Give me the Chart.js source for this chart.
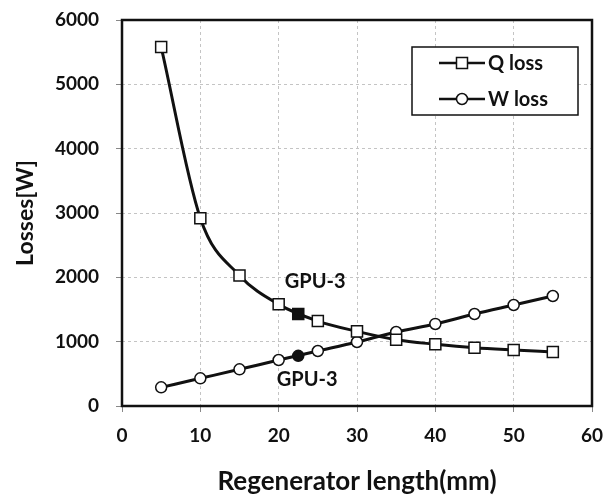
<!DOCTYPE html>
<html lang="en">
  <head>
    <meta charset="UTF-8" />
    <script src="https://cdn.jsdelivr.net/npm/chart.js@4.4.0/dist/chart.umd.min.js"></script>
    <title>Regenerator losses</title>
    <style>
      body { margin: 0; background: #fff; }
      #wrap { width: 605px; height: 501px; }
    </style>
  </head>
  <body>
    <div id="wrap"><canvas id="chart"></canvas></div>
    <script>
      // regenerator length (mm) and losses (W)
      const lengths = [5, 10, 15, 20, 25, 30, 35, 40, 45, 50, 55];
      const qLoss = [5580, 2920, 2030, 1580, 1320, 1160, 1030, 960, 905, 870, 840];
      const wLoss = [290, 430, 570, 715, 855, 995, 1150, 1275, 1430, 1570, 1710];
      // GPU-3 engine design point
      const gpuLength = 22.5;
      const gpuQ = 1430;
      const gpuW = 780;
      const seriesNames = ["Q loss", "W loss"];

      const FONT = "Lato";
      const INK = "#111";

      const toPoints = (xs, ys) => xs.map((x, i) => ({ x: x, y: ys[i] }));

      // keep the plot box fixed: no extra room for overhanging tick labels
      const noOverhang = (s) => {
        s.paddingTop = 0;
        s.paddingBottom = 0;
        s.paddingLeft = 0;
        s.paddingRight = 0;
      };

      // frame, GPU-3 labels and the boxed legend inside the plot
      const extras = {
        id: "extras",
        afterDraw(chart) {
          const { ctx, chartArea: a, scales } = chart;
          const x = scales.x, y = scales.y;
          ctx.save();
          ctx.strokeStyle = INK;
          ctx.lineWidth = 2.5;
          ctx.strokeRect(a.left, a.top, a.right - a.left, a.bottom - a.top);

          ctx.fillStyle = INK;
          ctx.font = "bold 20px " + FONT;
          ctx.textAlign = "center";
          ctx.textBaseline = "middle";
          ctx.fillText("GPU-3", x.getPixelForValue(gpuLength) + 17, y.getPixelForValue(gpuQ) - 32);
          ctx.fillText("GPU-3", x.getPixelForValue(gpuLength) + 9, y.getPixelForValue(gpuW) + 24);

          // legend
          const bx = a.right - 180, by = a.top + 27, bw = 166, bh = 68;
          ctx.fillStyle = "#fff";
          ctx.fillRect(bx, by, bw, bh);
          ctx.strokeStyle = INK;
          ctx.lineWidth = 1.5;
          ctx.strokeRect(bx, by, bw, bh);
          const rows = [by + 16, by + 52];
          rows.forEach((ry, i) => {
            ctx.strokeStyle = INK;
            ctx.lineWidth = 2.5;
            ctx.beginPath();
            ctx.moveTo(bx + 27, ry);
            ctx.lineTo(bx + 73, ry);
            ctx.stroke();
            ctx.fillStyle = "#fff";
            ctx.lineWidth = 1.5;
            ctx.beginPath();
            if (i === 0) ctx.rect(bx + 44.5, ry - 5.5, 11, 11);
            else ctx.arc(bx + 50, ry, 5.5, 0, Math.PI * 2);
            ctx.fill();
            ctx.stroke();
            ctx.fillStyle = INK;
            ctx.font = "bold 20px " + FONT;
            ctx.textAlign = "left";
            ctx.fillText(seriesNames[i], bx + 76, ry + 1);
          });
          ctx.restore();
        },
      };

      new Chart(document.getElementById("chart"), {
        type: "scatter",
        data: {
          datasets: [
            {
              label: seriesNames[0],
              data: toPoints(lengths, qLoss),
              showLine: true,
              cubicInterpolationMode: "monotone",
              borderColor: INK,
              borderWidth: 3,
              pointStyle: "rect",
              pointRadius: 7.8,
              pointBorderWidth: 1.5,
              pointBackgroundColor: "#fff",
              pointBorderColor: INK,
            },
            {
              label: seriesNames[1],
              data: toPoints(lengths, wLoss),
              showLine: true,
              cubicInterpolationMode: "monotone",
              borderColor: INK,
              borderWidth: 3,
              pointStyle: "circle",
              pointRadius: 5.5,
              pointBorderWidth: 1.5,
              pointBackgroundColor: "#fff",
              pointBorderColor: INK,
            },
            {
              label: "GPU-3 Q",
              data: [{ x: gpuLength, y: gpuQ }],
              pointStyle: "rect",
              pointRadius: 7.8,
              pointBorderWidth: 1.5,
              pointBackgroundColor: INK,
              pointBorderColor: INK,
            },
            {
              label: "GPU-3 W",
              data: [{ x: gpuLength, y: gpuW }],
              pointStyle: "circle",
              pointRadius: 5.5,
              pointBorderWidth: 1.5,
              pointBackgroundColor: INK,
              pointBorderColor: INK,
            },
          ],
        },
        options: {
          responsive: true,
          maintainAspectRatio: false,
          animation: false,
          layout: { padding: { left: 0, right: 13, top: 20, bottom: 0 } },
          plugins: { legend: { display: false }, tooltip: { enabled: false } },
          scales: {
            x: {
              type: "linear",
              min: 0,
              max: 60,
              afterFit: (s) => { s.height = 95; noOverhang(s); },
              ticks: { stepSize: 10, color: INK, padding: 12, font: { family: FONT, size: 19, weight: "bold" } },
              grid: { color: "#c4c4c4", tickColor: "#888", tickLength: 6 },
              border: { display: false, dash: [3, 3] },
              title: {
                display: true,
                text: "Regenerator length(mm)",
                color: INK,
                padding: { top: 0, bottom: 4 },
                font: { family: FONT, size: 26, weight: "bold" },
              },
            },
            y: {
              min: 0,
              max: 6000,
              afterFit: (s) => { s.width = 122; noOverhang(s); },
              ticks: {
                stepSize: 1000,
                color: INK,
                padding: 17,
                font: { family: FONT, size: 19, weight: "bold" },
                callback: (v) => String(v),
              },
              grid: { color: "#c4c4c4", tickColor: "#888", tickLength: 6 },
              border: { display: false, dash: [3, 3] },
              title: {
                display: true,
                text: "Losses[W]",
                color: INK,
                padding: { top: 12, bottom: 0 },
                font: { family: FONT, size: 23, weight: "bold" },
              },
            },
          },
        },
        plugins: [extras],
      });
    </script>
  </body>
</html>
